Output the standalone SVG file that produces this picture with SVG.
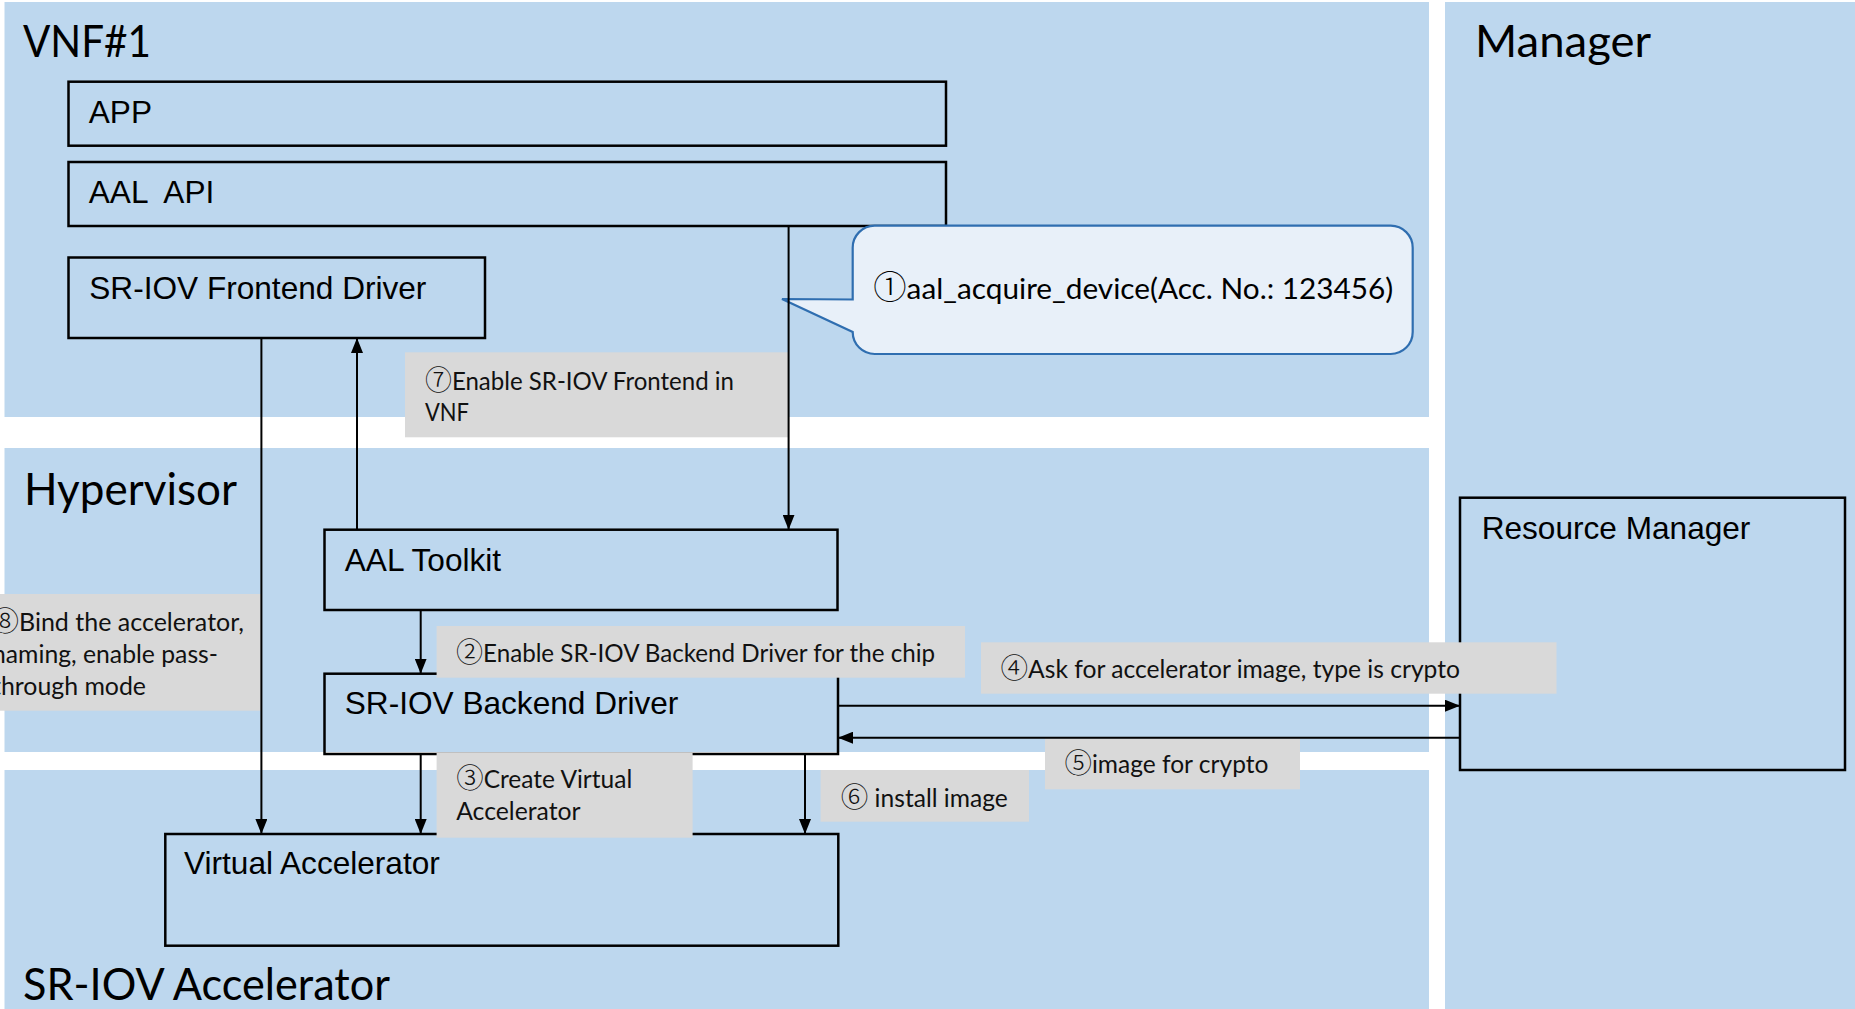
<svg xmlns="http://www.w3.org/2000/svg" width="1855" height="1009" viewBox="0 0 1855 1009">
  <style>
    .panel { fill: #BDD7EE; }
    .box { fill: none; stroke: #000; stroke-width: 2.5; }
    .lbl { font-family: "Liberation Sans", Arial, sans-serif; font-size: 31.6px; fill: #000; }
    .head { font-family: Lato, "Noto Sans CJK SC", sans-serif; font-size: 44px; fill: #000; }
    .tag { fill: #D9D9D9; }
    .note { font-family: Lato, "Noto Sans CJK SC", sans-serif; font-size: 24.5px; fill: #111; }
    .num { font-family: "Noto Sans CJK SC", sans-serif; font-size: 1.12em; font-weight: 300; }
    .callout { fill: #E8F0F9; stroke: #2F6EB0; stroke-width: 2.2; }
    .callout-text { font-family: Lato, "Noto Sans CJK SC", sans-serif; font-size: 29.5px; fill: #000; }
    .wire { fill: none; stroke: #000; stroke-width: 2; marker-end: url(#arrow); }
  </style>
  <defs>
    <marker id="arrow" markerUnits="userSpaceOnUse" markerWidth="15" markerHeight="12" refX="15" refY="6" orient="auto">
      <path d="M0,0 L15,6 L0,12 Z" fill="#000"/>
    </marker>
  </defs>

  <rect width="1855" height="1009" fill="#FFFFFF"/>

  <!-- layer panels -->
  <g id="panel-vnf">
    <rect class="panel" x="4.5" y="2" width="1424.5" height="415"/>
    <text class="head" x="23" y="56.7" textLength="128" lengthAdjust="spacingAndGlyphs">VNF#1</text>
  </g>
  <g id="panel-hypervisor">
    <rect class="panel" x="4.5" y="448" width="1424.5" height="304"/>
    <text class="head" x="24" y="504.5" textLength="213" lengthAdjust="spacingAndGlyphs">Hypervisor</text>
  </g>
  <g id="panel-accelerator">
    <rect class="panel" x="4.5" y="770" width="1424.5" height="239"/>
    <text class="head" x="23" y="1000" textLength="367" lengthAdjust="spacingAndGlyphs">SR-IOV Accelerator</text>
  </g>
  <g id="panel-manager">
    <rect class="panel" x="1445" y="2" width="410" height="1007"/>
    <text class="head" x="1475" y="56.7" textLength="176" lengthAdjust="spacingAndGlyphs">Manager</text>
  </g>

  <!-- component boxes -->
  <g id="app">
    <rect class="box" x="68.5" y="81.7" width="877.5" height="64"/>
    <text class="lbl" x="88.8" y="122.7">APP</text>
  </g>
  <g id="aal-api">
    <rect class="box" x="68.5" y="162" width="877.5" height="64"/>
    <text class="lbl" x="88.8" y="202.7" word-spacing="9">AAL API</text>
  </g>
  <g id="frontend-driver">
    <rect class="box" x="68.5" y="257.5" width="416.5" height="80.5"/>
    <text class="lbl" x="89.3" y="299.3">SR-IOV Frontend Driver</text>
  </g>
  <g id="aal-toolkit">
    <rect class="box" x="324.5" y="529.7" width="513" height="80.3"/>
    <text class="lbl" x="344.8" y="570.7">AAL Toolkit</text>
  </g>
  <g id="backend-driver">
    <rect class="box" x="324.5" y="673.7" width="513.5" height="80.3"/>
    <text class="lbl" x="344.8" y="714.3">SR-IOV Backend Driver</text>
  </g>
  <g id="virtual-accelerator">
    <rect class="box" x="165.3" y="834" width="673" height="111.7"/>
    <text class="lbl" x="184" y="874.3">Virtual Accelerator</text>
  </g>
  <g id="resource-manager">
    <rect class="box" x="1460" y="497.7" width="385" height="272.3"/>
    <text class="lbl" x="1481.7" y="539">Resource Manager</text>
  </g>

  <!-- call bubble for step 1 -->
  <g id="step1-callout">
    <path class="callout" d="M874.7,225.7 H1390.7 A22,22 0 0 1 1412.7,247.7 V332 A22,22 0 0 1 1390.7,354 H874.7 A22,22 0 0 1 852.7,332 L782,299 L852.7,299.5 V247.7 A22,22 0 0 1 874.7,225.7 Z"/>
    <text class="callout-text" x="873.3" y="298.8" textLength="520" lengthAdjust="spacingAndGlyphs"><tspan class="num">①</tspan>aal_acquire_device(Acc. No.: 123456)</text>
  </g>

  <!-- step labels -->
  <g id="step7-label">
    <rect class="tag" x="405" y="352.3" width="384" height="85"/>
    <text class="note" x="425" y="390" textLength="309" lengthAdjust="spacingAndGlyphs"><tspan class="num">⑦</tspan>Enable SR-IOV Frontend in</text>
    <text class="note" x="425" y="421" textLength="44" lengthAdjust="spacingAndGlyphs">VNF</text>
  </g>
  <g id="step8-label">
    <rect class="tag" x="0" y="594" width="261.4" height="116.7"/>
    <text class="note" x="-9" y="630.5" textLength="253" lengthAdjust="spacingAndGlyphs"><tspan class="num">⑧</tspan>Bind the accelerator,</text>
    <text class="note" x="-8" y="662.5" textLength="226" lengthAdjust="spacingAndGlyphs">naming, enable pass-</text>
    <text class="note" x="-8" y="694.5" textLength="154" lengthAdjust="spacingAndGlyphs">through mode</text>
  </g>
  <g id="step2-label">
    <rect class="tag" x="436.6" y="626" width="528.4" height="51.7"/>
    <text class="note" x="456" y="661.7" textLength="479" lengthAdjust="spacingAndGlyphs"><tspan class="num">②</tspan>Enable SR-IOV Backend Driver for the chip</text>
  </g>
  <g id="step3-label">
    <rect class="tag" x="436.6" y="753" width="256" height="84.7"/>
    <text class="note" x="456.2" y="788.3" textLength="176" lengthAdjust="spacingAndGlyphs"><tspan class="num">③</tspan>Create Virtual</text>
    <text class="note" x="456.2" y="820" textLength="124.3" lengthAdjust="spacingAndGlyphs">Accelerator</text>
  </g>
  <g id="step4-label">
    <rect class="tag" x="981" y="642.3" width="575.5" height="51.4"/>
    <text class="note" x="1000.5" y="678" textLength="459.5" lengthAdjust="spacingAndGlyphs"><tspan class="num">④</tspan>Ask for accelerator image, type is crypto</text>
  </g>
  <g id="step5-label">
    <rect class="tag" x="1045" y="738.3" width="255" height="51"/>
    <text class="note" x="1064.4" y="773.3" textLength="204" lengthAdjust="spacingAndGlyphs"><tspan class="num">⑤</tspan>image for crypto</text>
  </g>
  <g id="step6-label">
    <rect class="tag" x="820.6" y="770" width="208.4" height="51.7"/>
    <text class="note" x="840.8" y="806.7" textLength="167" lengthAdjust="spacingAndGlyphs"><tspan class="num">⑥</tspan> install image</text>
  </g>

  <!-- connectors -->
  <g id="connectors">
    <line class="wire" x1="788.6" y1="226" x2="788.6" y2="529.7"/>
    <line class="wire" x1="357" y1="529.7" x2="357" y2="338"/>
    <line class="wire" x1="261.4" y1="338" x2="261.4" y2="834"/>
    <line class="wire" x1="420.7" y1="610" x2="420.7" y2="673.7"/>
    <line class="wire" x1="420.7" y1="754" x2="420.7" y2="834"/>
    <line class="wire" x1="805" y1="754" x2="805" y2="834"/>
    <line class="wire" x1="838" y1="705.7" x2="1460" y2="705.7"/>
    <line class="wire" x1="1460" y1="737.7" x2="838" y2="737.7"/>
  </g>
</svg>
